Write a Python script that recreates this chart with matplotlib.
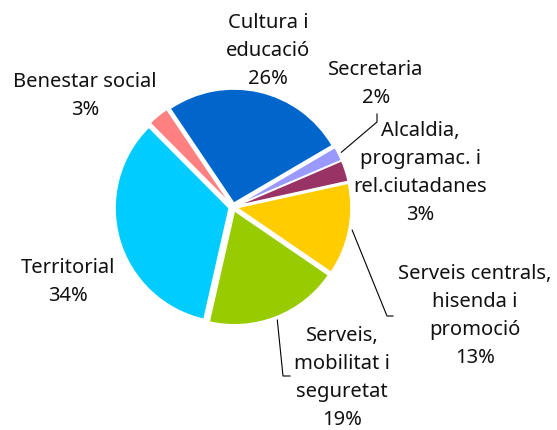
import matplotlib.pyplot as plt
import numpy as np

# Data
categories = ["Cultura i\neducació", "Secretaria", "Alcaldia,\nprogramac. i\nrel.ciutadanes",
              "Serveis centrals,\nhisenda i\npromoció", "Serveis,\nmobilitat i\nseguretat",
              "Territorial", "Benestar social"]
shares = [26, 2, 3, 13, 19, 34, 3]
colors = ["#0066CC", "#9999FF", "#993366", "#FFCC00", "#99CC00", "#00CCFF", "#FF8080"]

W, H = 557, 431
cx, cy, R = 233, 208, 114

# label block centres (pixel coords from the top-left) and leader elbows
label_pos = [(268, 51), (376, 84), (420, 173), (475, 316), (342, 378), (68, 282), (85, 96)]
leaders = {1: [(377, 123), (377, 115)], 3: [(387, 317), (393, 317)], 4: [(283, 377), (290, 377)]}

plt.switch_backend('Agg')
plt.rcParams['font.family'] = ['Noto Sans', 'DejaVu Sans']

fig = plt.figure(figsize=(W / 100, H / 100), dpi=100)
ax = fig.add_axes([0, 0, 1, 1])

# explode is in data units (pixels here)
wedges, _ = ax.pie(shares, colors=colors, startangle=124, counterclock=False,
                   center=(cx, H - cy), radius=R, explode=[4] * len(shares),
                   wedgeprops=dict(edgecolor='white', linewidth=1.0), frame=True)

for i, (lbl, val) in enumerate(zip(categories, shares)):
    x, y = label_pos[i]
    ax.text(x, H - y, f"{lbl}\n{val}%", ha='center', va='center', fontsize=14.5,
            color='#111111', linespacing=1.52)
    if i in leaders:
        w = wedges[i]
        mid = np.deg2rad((w.theta1 + w.theta2) / 2)
        sx, sy = w.center[0] + R * 1.03 * np.cos(mid), w.center[1] + R * 1.03 * np.sin(mid)
        xs = [sx] + [p[0] for p in leaders[i]]
        ys = [sy] + [H - p[1] for p in leaders[i]]
        ax.plot(xs, ys, color='black', linewidth=0.8)

ax.set_xlim(0, W)
ax.set_ylim(0, H)
ax.axis('off')

fig.savefig("out.png", dpi=100)
plt.close(fig)
